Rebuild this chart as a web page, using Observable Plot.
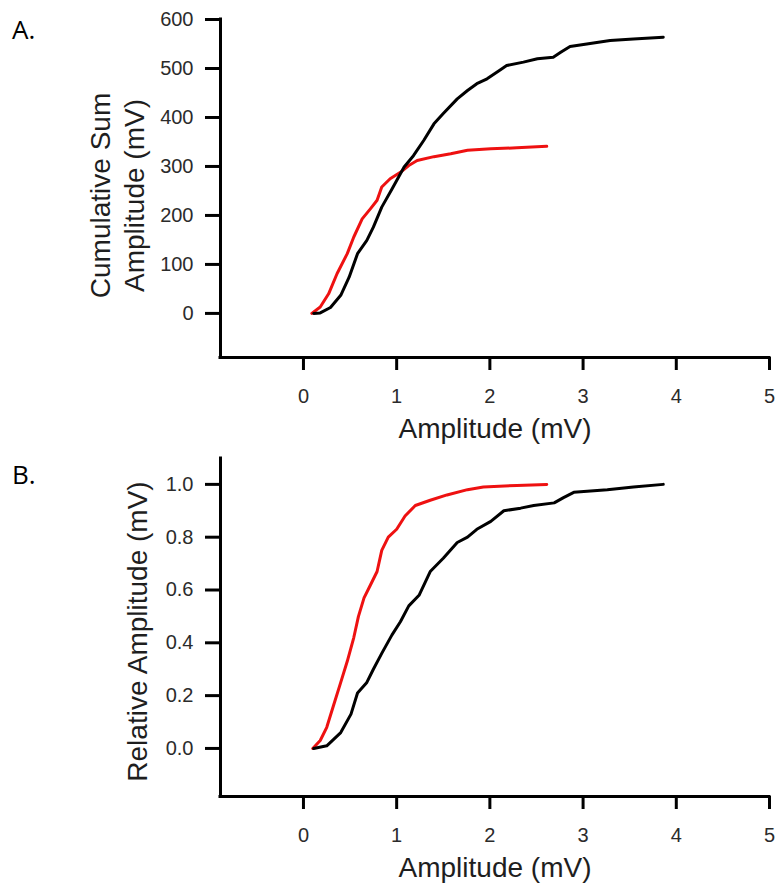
<!DOCTYPE html>
<html><head><meta charset="utf-8">
<script src="https://cdn.jsdelivr.net/npm/d3@7"></script>
<script src="https://cdn.jsdelivr.net/npm/@observablehq/plot@0.6"></script>
<style>
body{margin:0;background:#fff;width:778px;height:893px;overflow:hidden;position:relative;}
.pl{position:absolute;left:12px;font-family:"Open Sans",sans-serif;font-size:26px;line-height:30px;color:#000;}
.panel{position:absolute;left:0;}
svg{overflow:visible;}
g[aria-label$="tick label"], g[aria-label$="tick label"] text{font-size:20px !important;font-family:"Liberation Sans",Arial,sans-serif;}
</style></head><body>
<div id="a" class="panel" style="top:0"></div>
<div id="b" class="panel" style="top:450px"></div>
<div class="pl" style="top:14px">A.</div>
<div class="pl" style="top:459px">B.</div>
<script>
// ---- data ----
const xTicks = [0, 1, 2, 3, 4, 5];
const xDomain = [-0.89, 5];
const xTitle = "Amplitude (mV)";

const cumTicks = [0, 100, 200, 300, 400, 500, 600];
const cumDomain = [-90, 600];
const cumTitle = "Cumulative Sum\nAmplitude (mV)";

const relTicks = [0, 0.2, 0.4, 0.6, 0.8, 1.0];
const relDomain = [-0.182, 1.098];
const relTitle = "Relative Amplitude (mV)";

// Panel A: cumulative sum
const cumBlackX = [0.11,0.18,0.29,0.40,0.49,0.58,0.68,0.75,0.84,0.95,1.08,1.18,1.29,1.40,1.50,1.65,1.76,1.86,1.97,2.11,2.18,2.36,2.51,2.68,2.76,2.86,3.04,3.29,3.54,3.86];
const cumBlackY = [0,1,12,37,74,122,149,176,217,254,299,322,353,387,408,438,455,469,479,497,506,513,520,523,533,545,550,557,560,564];
const cumRedX = [0.09,0.18,0.27,0.36,0.47,0.54,0.63,0.72,0.79,0.84,0.93,1.04,1.13,1.22,1.40,1.58,1.76,2.01,2.29,2.61];
const cumRedY = [0,13,40,81,122,156,193,214,231,258,275,288,302,312,320,326,333,336,338,341];

// Panel B: relative amplitude
const relBlackX = [0.11,0.25,0.40,0.51,0.58,0.68,0.75,0.84,0.95,1.04,1.13,1.24,1.36,1.50,1.65,1.76,1.86,2.01,2.15,2.33,2.47,2.69,2.79,2.90,3.26,3.54,3.86];
const relBlackY = [0,0.01,0.06,0.13,0.21,0.25,0.30,0.36,0.43,0.48,0.54,0.58,0.67,0.72,0.78,0.80,0.83,0.86,0.90,0.91,0.92,0.93,0.95,0.97,0.98,0.99,1.0];
const relRedX = [0.10,0.18,0.25,0.32,0.40,0.47,0.54,0.59,0.65,0.72,0.79,0.84,0.91,1.00,1.09,1.20,1.36,1.54,1.76,1.93,2.29,2.61];
const relRedY = [0,0.03,0.08,0.16,0.25,0.33,0.42,0.50,0.57,0.62,0.67,0.75,0.80,0.83,0.88,0.92,0.94,0.96,0.98,0.99,0.996,1.0];

const blackColor = "#000000";
const redColor = "#ee1111";

function toRows(xs, ys) { return xs.map((x, i) => ({x, y: ys[i]})); }

function panel({yDomain, yTicks, yFormat, series, yTitle, height, marginTop, marginBottom, titleDx, titleDy}) {
  return Plot.plot({
    width: 778, height, marginLeft: 220, marginRight: 9, marginTop, marginBottom,
    style: {fontFamily: "Liberation Sans, Arial, sans-serif", fontSize: "20px", color: "#2b2b2b", background: "#fff", overflow: "visible"},
    x: {domain: xDomain},
    y: {domain: yDomain},
    marks: [
      ...series.map(s => Plot.line(toRows(s.x, s.y), {x: "x", y: "y", stroke: s.color, strokeWidth: 3, strokeLinejoin: "round", strokeLinecap: "round"})),
      Plot.ruleX([xDomain[0]], {stroke: "#000", strokeWidth: 3, strokeLinecap: "square"}),
      Plot.ruleY([yDomain[0]], {stroke: "#000", strokeWidth: 3, strokeLinecap: "square"}),
      Plot.axisX(xTicks, {tickSize: 13, tickPadding: 18, stroke: "#000", strokeWidth: 3, fill: "#2b2b2b", label: null, fontSize: 20}),
      Plot.axisY(yTicks, {tickSize: 15, tickPadding: 12, stroke: "#000", strokeWidth: 3, fill: "#2b2b2b", label: null, fontSize: 20, tickFormat: yFormat}),
      Plot.text([xTitle], {text: d => d, frameAnchor: "bottom", textAnchor: "middle", dy: 80, fontSize: 28, fill: "#1e1e1e"}),
      Plot.text([yTitle], {text: d => d, frameAnchor: "left", textAnchor: "middle", lineAnchor: "middle", rotate: -90, dx: titleDx, dy: titleDy, fontSize: 28, lineHeight: 1.2, fill: "#1e1e1e"})
    ]
  });
}

document.getElementById("a").append(panel({
  yDomain: cumDomain, yTicks: cumTicks, yFormat: d3.format("d"),
  series: [{x: cumRedX, y: cumRedY, color: redColor}, {x: cumBlackX, y: cumBlackY, color: blackColor}],
  yTitle: cumTitle, height: 450, marginTop: 19, marginBottom: 93, titleDx: -104, titleDy: 7
}));
document.getElementById("b").append(panel({
  yDomain: relDomain, yTicks: relTicks, yFormat: d3.format(".1f"),
  series: [{x: relRedX, y: relRedY, color: redColor}, {x: relBlackX, y: relBlackY, color: blackColor}],
  yTitle: relTitle, height: 443, marginTop: 8, marginBottom: 97, titleDx: -84, titleDy: 4
}));
</script>
</body></html>
